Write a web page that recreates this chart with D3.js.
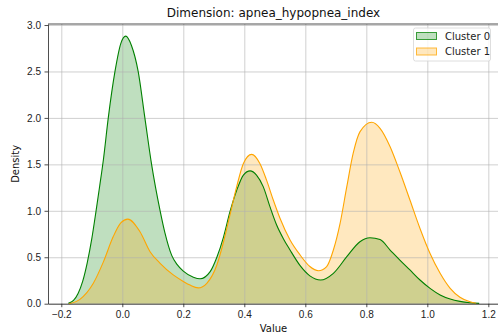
<!DOCTYPE html>
<html>
<head>
<meta charset="utf-8">
<script src="https://cdn.jsdelivr.net/npm/d3@7"></script>
<style>
  body { margin: 0; background: #fff; }
  svg { font-family: "DejaVu Sans", sans-serif; }
  .axis text { font-size: 10px; fill: #222; }
  .axis path, .axis line { stroke: #222; stroke-width: 0.8; }
  .grid line { stroke: #b0b0b0; stroke-width: 0.8; opacity: 0.75; }
  .grid path { display: none; }
</style>
</head>
<body>
<div id="chart"></div>
<script>
var svgWidth = 498;
var svgHeight = 335;

var margin = { top: 24, right: -1, bottom: 31.3, left: 48 };
var width = svgWidth - margin.left - margin.right;
var height = svgHeight - margin.top - margin.bottom;

// Cluster 0 (green) density curve
var xs0 = [-0.177, -0.16, -0.145, -0.13, -0.115, -0.1, -0.086, -0.074, -0.062, -0.046,
  -0.024, -0.005, 0.011, 0.03, 0.052, 0.074, 0.096, 0.124, 0.14, 0.162,
  0.18, 0.2, 0.233, 0.255, 0.288, 0.31, 0.332, 0.353, 0.375, 0.397,
  0.419, 0.44, 0.462, 0.484, 0.506, 0.528, 0.55, 0.583, 0.615, 0.65,
  0.692, 0.736, 0.779, 0.812, 0.845, 0.878, 0.91, 0.943, 0.976, 1.009,
  1.042, 1.075, 1.107, 1.14, 1.17];
var dens0 = [0.004, 0.035, 0.11, 0.24, 0.44, 0.7, 1.0, 1.27, 1.55, 2.0,
  2.5, 2.8, 2.88, 2.78, 2.5, 2.0, 1.5, 1.0, 0.76, 0.52,
  0.42, 0.35, 0.285, 0.268, 0.345, 0.5, 0.72, 0.99, 1.22, 1.385,
  1.43, 1.385, 1.26, 1.045, 0.847, 0.70, 0.578, 0.41, 0.30, 0.255,
  0.327, 0.506, 0.667, 0.71, 0.69, 0.578, 0.47, 0.363, 0.255, 0.165,
  0.094, 0.05, 0.025, 0.01, 0.003];

// Cluster 1 (orange) density curve
var xs1 = [-0.175, -0.139, -0.095, -0.062, -0.030, -0.005, 0.018, 0.058, 0.091, 0.124,
  0.167, 0.2, 0.222, 0.249, 0.277, 0.31, 0.332, 0.353, 0.375, 0.397,
  0.424, 0.451, 0.473, 0.495, 0.517, 0.55, 0.583, 0.615, 0.643, 0.67,
  0.692, 0.714, 0.736, 0.757, 0.779, 0.818, 0.845, 0.878, 0.91, 0.943,
  0.976, 1.009, 1.042, 1.075, 1.107, 1.14, 1.16];
var dens1 = [0.0, 0.047, 0.22, 0.45, 0.72, 0.87, 0.91, 0.775, 0.56, 0.435,
  0.31, 0.24, 0.2, 0.17, 0.22, 0.417, 0.667, 0.955, 1.26, 1.51,
  1.608, 1.51, 1.33, 1.116, 0.92, 0.686, 0.524, 0.40, 0.355, 0.40,
  0.578, 0.865, 1.26, 1.62, 1.85, 1.953, 1.888, 1.69, 1.42, 1.116,
  0.81, 0.54, 0.327, 0.165, 0.069, 0.02, 0.005];

var clusterNames = ["Cluster 0", "Cluster 1"];
var clusterColors = ["green", "orange"];
var xTicks = [-0.2, 0.0, 0.2, 0.4, 0.6, 0.8, 1.0, 1.2];
var yTicks = [0.0, 0.5, 1.0, 1.5, 2.0, 2.5, 3.0];

var series = [
  { name: clusterNames[0], color: clusterColors[0], values: xs0.map((x, i) => ({ x: x, y: dens0[i] })) },
  { name: clusterNames[1], color: clusterColors[1], values: xs1.map((x, i) => ({ x: x, y: dens1[i] })) }
];

var svg = d3.select("#chart")
  .append("svg")
  .attr("width", svgWidth)
  .attr("height", svgHeight);

var chartGroup = svg.append("g")
  .attr("transform", `translate(${margin.left}, ${margin.top})`);

var xScale = d3.scaleLinear().domain([-0.2436, 1.235]).range([0, width]);
var yScale = d3.scaleLinear().domain([0, 3.011]).range([height, 0]);

// filled areas first
var area = d3.area()
  .x(d => xScale(d.x))
  .y0(yScale(0))
  .y1(d => yScale(d.y))
  .curve(d3.curveMonotoneX);

var line = d3.line()
  .x(d => xScale(d.x))
  .y(d => yScale(d.y))
  .curve(d3.curveMonotoneX);

series.forEach(s => {
  chartGroup.append("path")
    .datum(s.values)
    .attr("d", area)
    .attr("fill", s.color)
    .attr("fill-opacity", 0.25);
});

// grid lines
chartGroup.append("g")
  .attr("class", "grid")
  .attr("transform", `translate(0, ${height})`)
  .call(d3.axisBottom(xScale).tickValues(xTicks).tickSize(-height).tickFormat(""));

chartGroup.append("g")
  .attr("class", "grid")
  .call(d3.axisLeft(yScale).tickValues(yTicks).tickSize(-width).tickFormat(""));

// outlines
series.forEach(s => {
  chartGroup.append("path")
    .datum(s.values)
    .attr("d", line)
    .attr("fill", "none")
    .attr("stroke", s.color)
    .attr("stroke-width", 1.1);
});

// axes
chartGroup.append("g")
  .attr("class", "axis")
  .attr("transform", `translate(0, ${height})`)
  .call(d3.axisBottom(xScale).tickValues(xTicks).tickSize(3.5).tickPadding(3.5).tickSizeOuter(0)
    .tickFormat(d => d3.format(".1f")(d).replace("-", "\u2212")));

chartGroup.append("g")
  .attr("class", "axis")
  .call(d3.axisLeft(yScale).tickValues(yTicks).tickSize(3.5).tickPadding(3.5).tickSizeOuter(0)
    .tickFormat(d3.format(".1f")));

// top spine
chartGroup.append("line")
  .attr("x1", 0).attr("x2", width)
  .attr("y1", 0).attr("y2", 0)
  .attr("stroke", "#222")
  .attr("stroke-width", 0.8);

// title and labels
svg.append("text")
  .attr("x", margin.left + width / 2)
  .attr("y", 17)
  .attr("text-anchor", "middle")
  .attr("font-size", "12px")
  .attr("fill", "#111")
  .text("Dimension: apnea_hypopnea_index");

svg.append("text")
  .attr("x", margin.left + width / 2)
  .attr("y", 332)
  .attr("text-anchor", "middle")
  .attr("font-size", "10px")
  .attr("fill", "#111")
  .text("Value");

svg.append("text")
  .attr("transform", `translate(19, ${margin.top + height / 2}) rotate(-90)`)
  .attr("text-anchor", "middle")
  .attr("font-size", "10px")
  .attr("fill", "#111")
  .text("Density");

// legend
var legend = svg.append("g")
  .attr("transform", "translate(413.5, 28)");

legend.append("rect")
  .attr("width", 77)
  .attr("height", 33)
  .attr("rx", 2)
  .attr("fill", "#fff")
  .attr("fill-opacity", 0.8)
  .attr("stroke", "#d6d6d6")
  .attr("stroke-width", 0.8);

series.forEach((s, i) => {
  var item = legend.append("g")
    .attr("transform", `translate(3, ${4.5 + i * 15.5})`);
  item.append("rect")
    .attr("width", 20)
    .attr("height", 7)
    .attr("fill", s.color)
    .attr("fill-opacity", 0.25)
    .attr("stroke", s.color)
    .attr("stroke-opacity", 0.75)
    .attr("stroke-width", 1);
  item.append("text")
    .attr("x", 28.5)
    .attr("y", 7)
    .attr("font-size", "10px")
    .attr("fill", "#222")
    .text(s.name);
});
</script>
</body>
</html>
